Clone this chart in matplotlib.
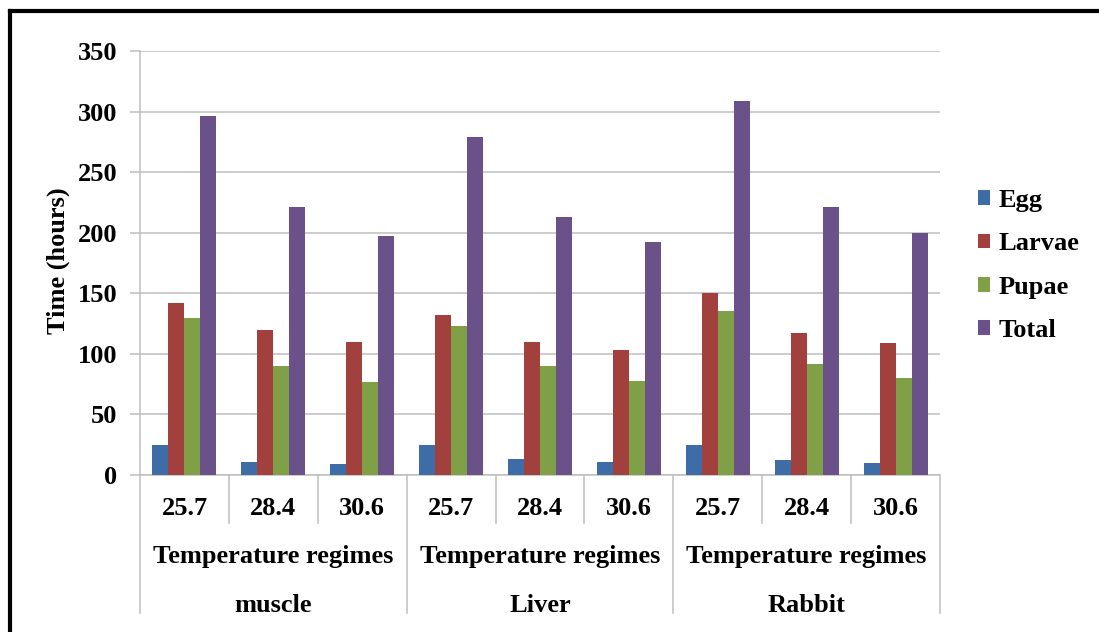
import matplotlib
matplotlib.use("Agg")
import matplotlib.pyplot as plt
from matplotlib.lines import Line2D
from matplotlib.transforms import blended_transform_factory
import numpy as np

groups = ["muscle", "Liver", "Rabbit"]
temps = ["25.7", "28.4", "30.6"]
sub_label = "Temperature regimes"
series = ["Egg", "Larvae", "Pupae", "Total"]
egg = [25, 11, 9, 25, 13, 11, 25, 12, 10]
larvae = [142, 120, 110, 132, 110, 103, 150, 117, 109]
pupae = [130, 90, 77, 123, 90, 78, 135, 92, 80]
total = [296, 221, 197, 279, 213, 192, 309, 221, 200]
colors = ["#3E6CA7", "#A2403D", "#80A047", "#6A5189"]

plt.rcParams['font.family'] = ['Liberation Serif', 'DejaVu Serif']
plt.rcParams['font.weight'] = 'bold'
FS = 19

W, H = 1099, 632
fig = plt.figure(figsize=(W / 100, H / 100), dpi=100)
ax = fig.add_axes([140 / W, 1 - 475 / H, 800 / W, 424 / H])

labels_x = [t for g in groups for t in temps]
x = np.arange(len(labels_x))
bw = 0.18
data = [egg, larvae, pupae, total]
for i, (name, vals, c) in enumerate(zip(series, data, colors)):
    ax.bar(x + (i - 1.5) * bw, vals, width=bw, color=c, label=name, zorder=3)

ax.set_xlim(-0.5, len(x) - 0.5)
ax.set_ylim(0, 350)
ax.set_yticks(np.arange(0, 351, 50))
ax.grid(axis='y', color='#BEBEBE', linewidth=1.1, zorder=0)
ax.set_axisbelow(True)
for s in ['top', 'right']:
    ax.spines[s].set_visible(False)
ax.spines['left'].set_color('#BEBEBE')
ax.spines['bottom'].set_color('#BEBEBE')
ax.spines['left'].set_linewidth(1.1)
ax.spines['bottom'].set_linewidth(1.1)
ax.tick_params(axis='y', length=7.2, width=1.1, color='#BEBEBE', pad=9.0,
               labelsize=FS)
ax.set_xticks(x)
ax.set_xticklabels(labels_x, fontsize=FS, fontweight='bold')
ax.tick_params(axis='x', length=0, pad=23.8)
for lab in ax.get_xticklabels():
    lab.set_verticalalignment('center')
for lab in ax.get_yticklabels():
    lab.set_fontweight('bold')

ax.set_ylabel("Time (hours)", fontsize=FS, fontweight='bold')
ax.yaxis.set_label_coords(-82 / 800, (475 - 261) / 424)
ax.yaxis.label.set_verticalalignment('center')

trans = blended_transform_factory(ax.transData, ax.transAxes)
short_y = -48 / 424
long_y = -138 / 424
for b in np.arange(-0.5, len(x), 1.0):
    is_long = (round(b + 0.5) % 3 == 0)
    ax.add_line(Line2D([b, b], [0, long_y if is_long else short_y],
                       transform=trans, color='#BEBEBE', linewidth=1.1,
                       clip_on=False))

for gi, g in enumerate(groups):
    cx = gi * 3 + 1
    ax.text(cx, -(557 - 475) / 424, sub_label, transform=trans, ha='center',
            va='center', fontsize=FS, fontweight='bold')
    ax.text(cx, -(605 - 475) / 424, g, transform=trans, ha='center',
            va='center', fontsize=FS, fontweight='bold')

leg = ax.legend(loc='upper left', bbox_to_anchor=(978 / W, 1 - 189 / H),
                bbox_transform=fig.transFigure, frameon=False,
                handlelength=0.47, handleheight=0.47, handletextpad=0.3,
                labelspacing=0.77, borderpad=0, borderaxespad=0,
                prop={'weight': 'bold', 'size': FS})

# outer frame (clipped at right and bottom)
fig.add_artist(Line2D([10 / W, 10 / W], [0, 1 - 11 / H], transform=fig.transFigure,
                      color='black', linewidth=3))
fig.add_artist(Line2D([10 / W, 1], [1 - 11 / H, 1 - 11 / H], transform=fig.transFigure,
                      color='black', linewidth=3))

fig.savefig("out.png", dpi=100)
